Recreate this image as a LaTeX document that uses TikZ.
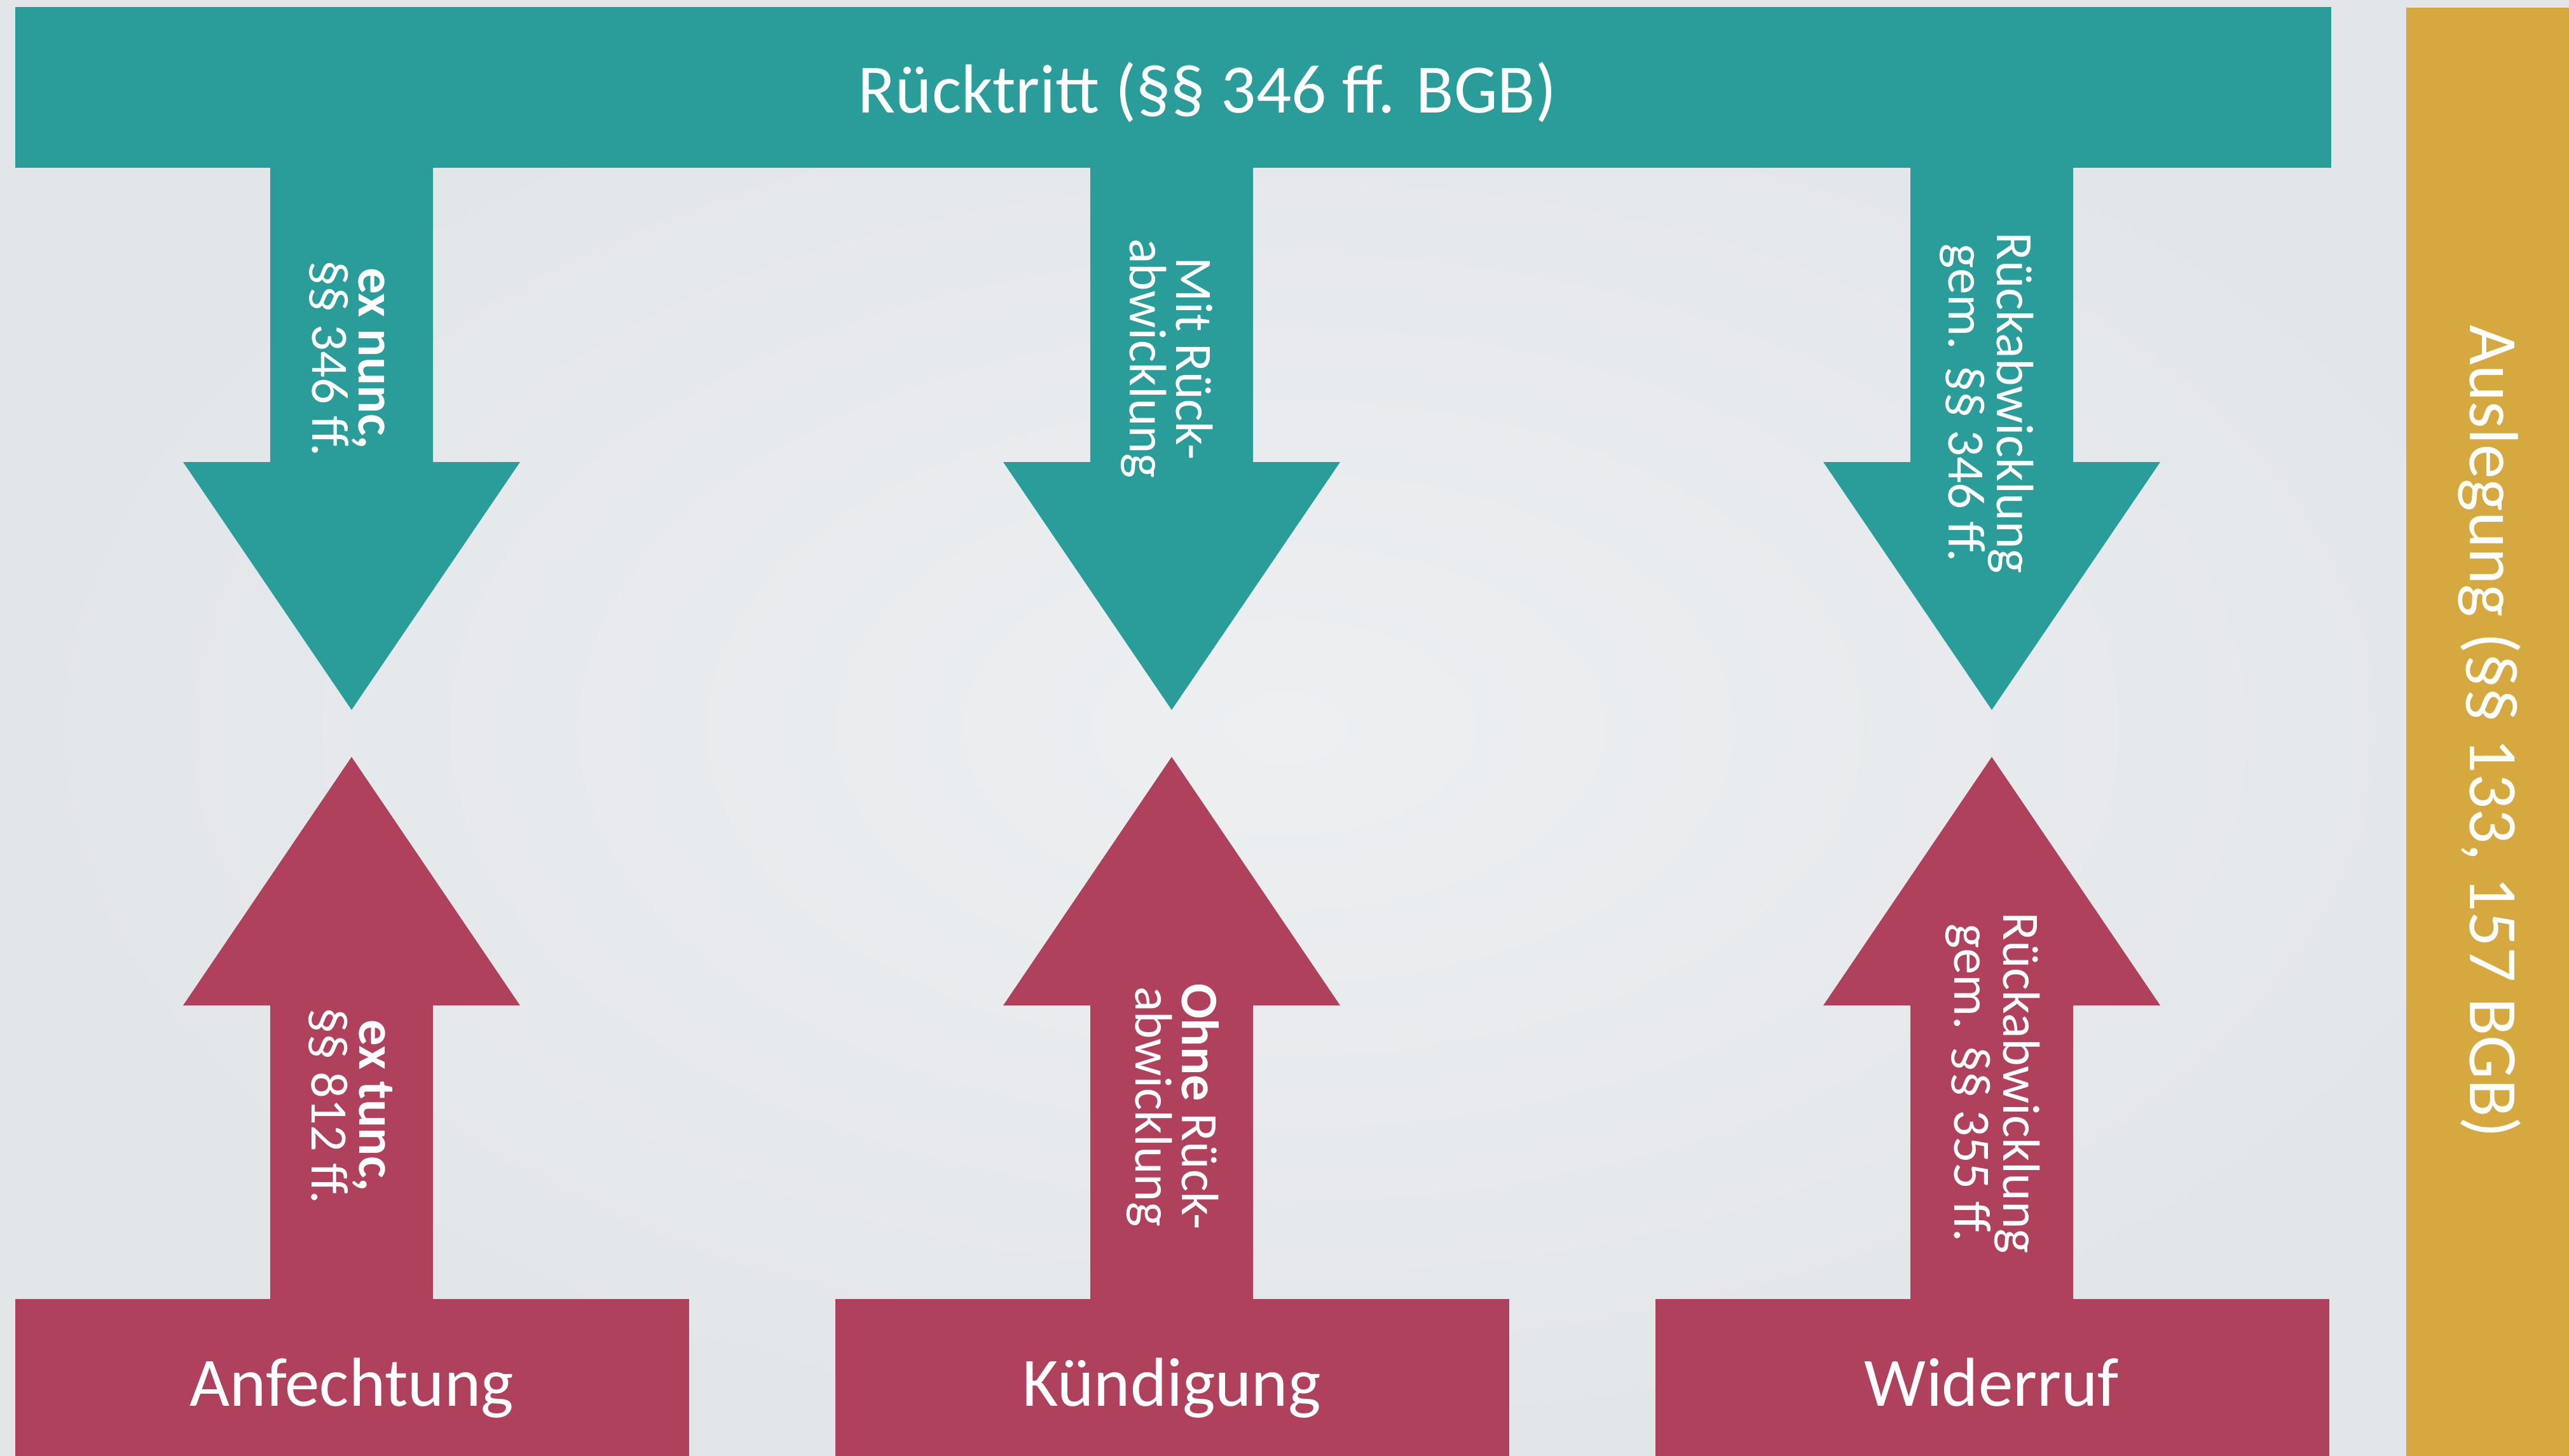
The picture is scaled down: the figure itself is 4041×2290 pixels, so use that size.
\documentclass[tikz,border=0pt]{standalone}
\usepackage{fontspec}
\setmainfont{Carlito}
\definecolor{tealc}{HTML}{2A9D9B}
\definecolor{crimc}{HTML}{B0415C}
\definecolor{goldc}{HTML}{D5A940}
\definecolor{bgin}{HTML}{EDEFF1}
\definecolor{bgout}{HTML}{E3E6E9}
\begin{document}
\begin{tikzpicture}[x=0.01cm,y=-0.01cm,
  bigtxt/.style={text=white, font=\fontsize{31}{31}\selectfont, inner sep=0pt, anchor=base},
  smalltxt/.style={text=white, font=\fontsize{23.5}{23.5}\selectfont, inner sep=0pt, anchor=base, rotate=-90},
  barbox/.style={rectangle, inner sep=0pt, draw=none, anchor=north west}]
\useasboundingbox (0,0) rectangle (4041,2290);
\shade[inner color=bgin, outer color=bgout] (0,0) rectangle (4041,2290);

% top bar
\node[barbox, fill=tealc, minimum width=36.41cm, minimum height=2.53cm] (top) at (23,10) {};
% side bar
\node[barbox, fill=goldc, minimum width=2.57cm, minimum height=22.79cm] (side) at (3784,11) {};
% bottom boxes
\foreach \c/\n in {553/b1,1843/b2,3133/b3}{
  \node[barbox, fill=crimc, minimum width=10.6cm, minimum height=2.5cm] (\n) at (\c-530,2043) {};
}
% block arrows
\foreach \c in {553,1843,3133}{
  \fill[tealc] (\c-128,250) -- (\c+128,250) -- (\c+128,727) -- (\c+265,727) -- (\c,1117)
     -- (\c-265,727) -- (\c-128,727) -- cycle;
  \fill[crimc] (\c,1191) -- (\c+265,1582) -- (\c+128,1582) -- (\c+128,2050)
     -- (\c-128,2050) -- (\c-128,1582) -- (\c-265,1582) -- cycle;
}

\node[bigtxt] (title) at (1899,177) {Rücktritt (§§ 346 ff. BGB)};
\node[bigtxt] (anf) at (553,2212) {Anfechtung};
\node[bigtxt] (kuen) at (1843,2212) {Kündigung};
\node[bigtxt] (wid) at (3133,2212) {Widerruf};
\node[bigtxt, rotate=-90] (ausl) at (3885,1151) {Auslegung (§§ 133, 157 BGB)};

\node[smalltxt] (d1a) at (564,564) {\textbf{ex nunc,}};
\node[smalltxt] (d1b) at (491,564) {§§ 346 ff.};
\node[smalltxt] (d2a) at (1850,564) {Mit Rück-};
\node[smalltxt] (d2b) at (1777,564) {abwicklung};
\node[smalltxt] (d3a) at (3141,634) {Rückabwicklung};
\node[smalltxt] (d3b) at (3065,634) {gem. §§ 346 ff.};

\node[smalltxt] (u1a) at (565,1740) {\textbf{ex tunc,}};
\node[smalltxt] (u1b) at (490,1740) {§§ 812 ff.};
\node[smalltxt] (u2a) at (1859,1741) {\textbf{Ohne} Rück-};
\node[smalltxt] (u2b) at (1786,1741) {abwicklung};
\node[smalltxt] (u3a) at (3151,1704) {Rückabwicklung};
\node[smalltxt] (u3b) at (3074,1704) {gem. §§ 355 ff.};
\end{tikzpicture}
\end{document}
